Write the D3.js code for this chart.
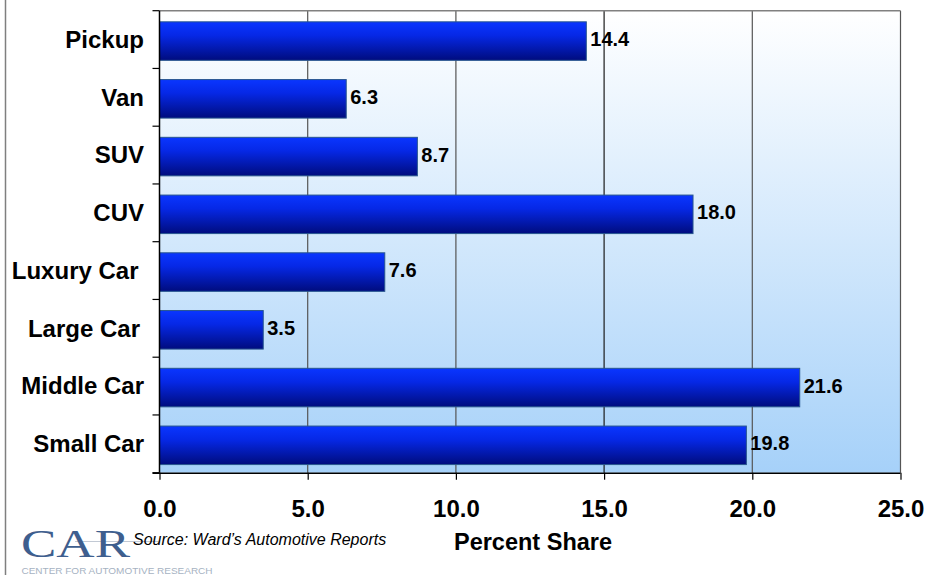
<!DOCTYPE html>
<html>
<head>
<meta charset="utf-8">
<script src="https://cdn.jsdelivr.net/npm/d3@7/dist/d3.min.js"></script>
<style>
  html, body { margin: 0; padding: 0; background: #ffffff; }
  svg { display: block; }
</style>
</head>
<body>
<script>
const categories = ["Pickup", "Van", "SUV", "CUV", "Luxury Car", "Large Car", "Middle Car", "Small Car"];
const values = [14.4, 6.3, 8.7, 18.0, 7.6, 3.5, 21.6, 19.8];
const xTicks = [0, 5, 10, 15, 20, 25];
const xTickLabels = ["0.0", "5.0", "10.0", "15.0", "20.0", "25.0"];
const xTitle = "Percent Share";
const sourceText = "Source: Ward\u2019s Automotive Reports";

(function () {
const W = 927, H = 575;
const pL = 159.5, pR = 900.5, pT = 10.7, pB = 472.7;

const svg = d3.select("body").append("svg").attr("width", W).attr("height", H);
const defs = svg.append("defs");

const bg = defs.append("linearGradient").attr("id", "bg").attr("x1", 0).attr("y1", 0).attr("x2", 0).attr("y2", 1);
bg.append("stop").attr("offset", "0%").attr("stop-color", "#ffffff");
bg.append("stop").attr("offset", "100%").attr("stop-color", "#a6d1f9");

const bar = defs.append("linearGradient").attr("id", "bar").attr("x1", 0).attr("y1", 0).attr("x2", 0).attr("y2", 1);
bar.append("stop").attr("offset", "0%").attr("stop-color", "#0a36ff");
bar.append("stop").attr("offset", "35%").attr("stop-color", "#0628e6");
bar.append("stop").attr("offset", "100%").attr("stop-color", "#000c7e");

const x = d3.scaleLinear().domain([0, 25]).range([pL, pR]);
const y = d3.scaleBand().domain(categories).range([pT, pB]).paddingInner(0.333).paddingOuter(0.1667);

svg.append("line").attr("x1", 5.5).attr("x2", 5.5).attr("y1", 0).attr("y2", H)
  .attr("stroke", "#7f7f7f").attr("stroke-width", 1.5);

svg.append("rect").attr("x", pL).attr("y", pT).attr("width", pR - pL).attr("height", pB - pT)
  .attr("fill", "url(#bg)");

svg.append("g").selectAll("line").data(xTicks.slice(1)).join("line")
  .attr("x1", d => x(d)).attr("x2", d => x(d)).attr("y1", pT).attr("y2", pB)
  .attr("stroke", d => d === 15 ? "#1a1a1a" : "#555555").attr("stroke-width", 1.2);

svg.append("line").attr("x1", pL).attr("x2", pR).attr("y1", pT).attr("y2", pT)
  .attr("stroke", "#808080").attr("stroke-width", 1.5);

svg.append("g").selectAll("rect").data(categories).join("rect")
  .attr("x", x(0))
  .attr("y", d => y(d) + 1.5)
  .attr("width", (d, i) => x(values[i]) - x(0))
  .attr("height", y.bandwidth())
  .attr("fill", "url(#bar)")
  .attr("stroke", "#27558f").attr("stroke-width", 1);

svg.append("g").selectAll("text").data(categories).join("text")
  .attr("x", (d, i) => x(values[i]) + 4)
  .attr("y", (d) => y(d) + 1.5 + y.bandwidth() / 2 + 5)
  .attr("font-family", "Liberation Sans, Arial, sans-serif")
  .attr("font-weight", "bold").attr("font-size", 20)
  .attr("fill", "#000")
  .text((d, i) => values[i].toFixed(1));

const yTickPos = d3.range(categories.length + 1).map(i => pT + i * (pB - pT) / categories.length);
svg.append("line").attr("x1", pL).attr("x2", pL).attr("y1", pT).attr("y2", pB)
  .attr("stroke", "#000").attr("stroke-width", 1.5);
svg.append("g").selectAll("line").data(yTickPos).join("line")
  .attr("x1", pL - 7).attr("x2", pL).attr("y1", d => d).attr("y2", d => d)
  .attr("stroke", "#000").attr("stroke-width", 1.2);

svg.append("g").selectAll("text").data(categories).join("text")
  .attr("x", d => d === "Luxury Car" ? 138.5 : (d === "Large Car" ? 140 : 144))
  .attr("y", d => y(d) + y.bandwidth() / 2 + 8.3)
  .attr("text-anchor", "end")
  .attr("font-family", "Liberation Sans, Arial, sans-serif")
  .attr("font-weight", "bold").attr("font-size", 24)
  .attr("fill", "#000")
  .text(d => d);

const xAxis = d3.axisBottom(x).tickValues(xTicks).tickSize(7).tickFormat((d, i) => xTickLabels[i]);
const gx = svg.append("g").attr("transform", `translate(0,${pB})`).call(xAxis);
gx.select(".domain").attr("stroke", "#000").attr("stroke-width", 1.5).attr("d", `M${pL - 7},0.5H${pR}`);
gx.selectAll(".tick line").attr("stroke", "#000").attr("stroke-width", 1.2);
gx.selectAll(".tick text")
  .attr("font-family", "Liberation Sans, Arial, sans-serif")
  .attr("font-weight", "bold").attr("font-size", 24)
  .attr("fill", "#000").attr("dy", 0).attr("y", 44.5);

svg.append("text").attr("x", 533).attr("y", 549.5).attr("text-anchor", "middle")
  .attr("font-family", "Liberation Sans, Arial, sans-serif")
  .attr("font-weight", "bold").attr("font-size", 23.5).attr("fill", "#000")
  .text(xTitle);

const logo = svg.append("g");
logo.append("line").attr("x1", 75).attr("x2", 160).attr("y1", 541.5).attr("y2", 541.5)
  .attr("stroke", "#9aa6b8").attr("stroke-width", 1).attr("opacity", 0.6);
logo.append("text").attr("x", 21).attr("y", 557)
  .attr("font-family", "Liberation Serif, Times New Roman, serif")
  .attr("font-size", 41).attr("fill", "#3e5e8e")
  .attr("textLength", 109).attr("lengthAdjust", "spacingAndGlyphs")
  .text("CAR");
logo.append("text").attr("x", 21.5).attr("y", 574)
  .attr("font-family", "Liberation Sans, Arial, sans-serif")
  .attr("font-size", 8.5).attr("fill", "#a6b2c2")
  .attr("textLength", 191).attr("lengthAdjust", "spacingAndGlyphs")
  .text("CENTER FOR AUTOMOTIVE RESEARCH");

svg.append("text").attr("x", 133).attr("y", 545)
  .attr("font-family", "Liberation Sans, Arial, sans-serif")
  .attr("font-style", "italic").attr("font-size", 16).attr("fill", "#000")
  .text(sourceText);
})();
</script>
</body>
</html>
